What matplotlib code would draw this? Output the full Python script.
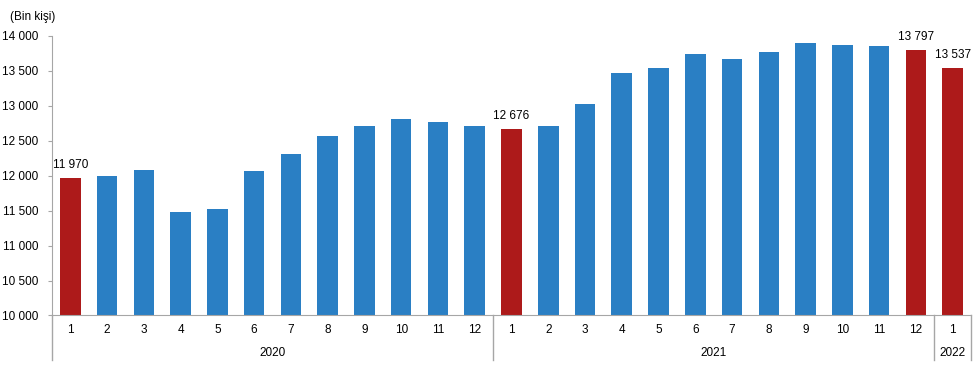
import matplotlib.pyplot as plt
import matplotlib.transforms as mtransforms
import numpy as np

plt.rcParams['font.family'] = ['Liberation Sans', 'DejaVu Sans']

months = [1, 2, 3, 4, 5, 6, 7, 8, 9, 10, 11, 12,
          1, 2, 3, 4, 5, 6, 7, 8, 9, 10, 11, 12,
          1]
values = [11970, 12003, 12089, 11488, 11531, 12075, 12304, 12562, 12705, 12805, 12762, 12719,
          12676, 12705, 13020, 13464, 13535, 13736, 13664, 13765, 13893, 13865, 13850, 13797,
          13537]
highlight = [0, 12, 23, 24]
years = ['2020', '2021', '2022']
year_spans = [(0, 11), (12, 23), (24, 24)]

blue = '#2a7fc4'
red = '#ad1a1a'
grey = '#a6a6a6'

fig = plt.figure(figsize=(9.79, 3.71), dpi=100)
ax = fig.add_axes([0.0531, 0.1496, 0.9387, 0.7534])

x = np.arange(len(values))
colors = [red if i in highlight else blue for i in x]
ax.bar(x, np.array(values) - 10000, bottom=10000, width=0.56, color=colors)

# value labels on the red bars
for i in highlight:
    ax.text(i, values[i] + 100, f'{values[i]:,}'.replace(',', ' '),
            ha='center', va='bottom', fontsize=8.5)

ax.set_xlim(-0.5, len(values) - 0.5)
ax.set_ylim(10000, 14000)
yt = np.arange(10000, 14001, 500)
ax.set_yticks(yt)
ax.set_yticklabels([f'{v:,}'.replace(',', ' ') for v in yt], fontsize=8.5)
ax.tick_params(axis='y', length=3, color=grey, pad=7)
ax.set_xticks([])

for s in ['top', 'right']:
    ax.spines[s].set_visible(False)
ax.spines['left'].set_color(grey)
ax.spines['bottom'].set_color(grey)

# two-level category axis: months, then years
trans = mtransforms.blended_transform_factory(ax.transData, ax.transAxes)
for i, m in enumerate(months):
    ax.text(i, -0.052, str(m), transform=trans, ha='center', va='center', fontsize=8.5)

for name, (a, b) in zip(years, year_spans):
    ax.text((a + b) / 2, -0.134, name, transform=trans, ha='center', va='center', fontsize=8.5)

for sep in [-0.5, 11.5, 23.5, 24.5]:
    ax.plot([sep, sep], [0, -0.159], transform=trans, color=grey, lw=1, clip_on=False)

fig.text(0.010, 0.955, '(Bin kişi)', fontsize=8.5, va='center', ha='left')

fig.savefig('out.png', dpi=100)
